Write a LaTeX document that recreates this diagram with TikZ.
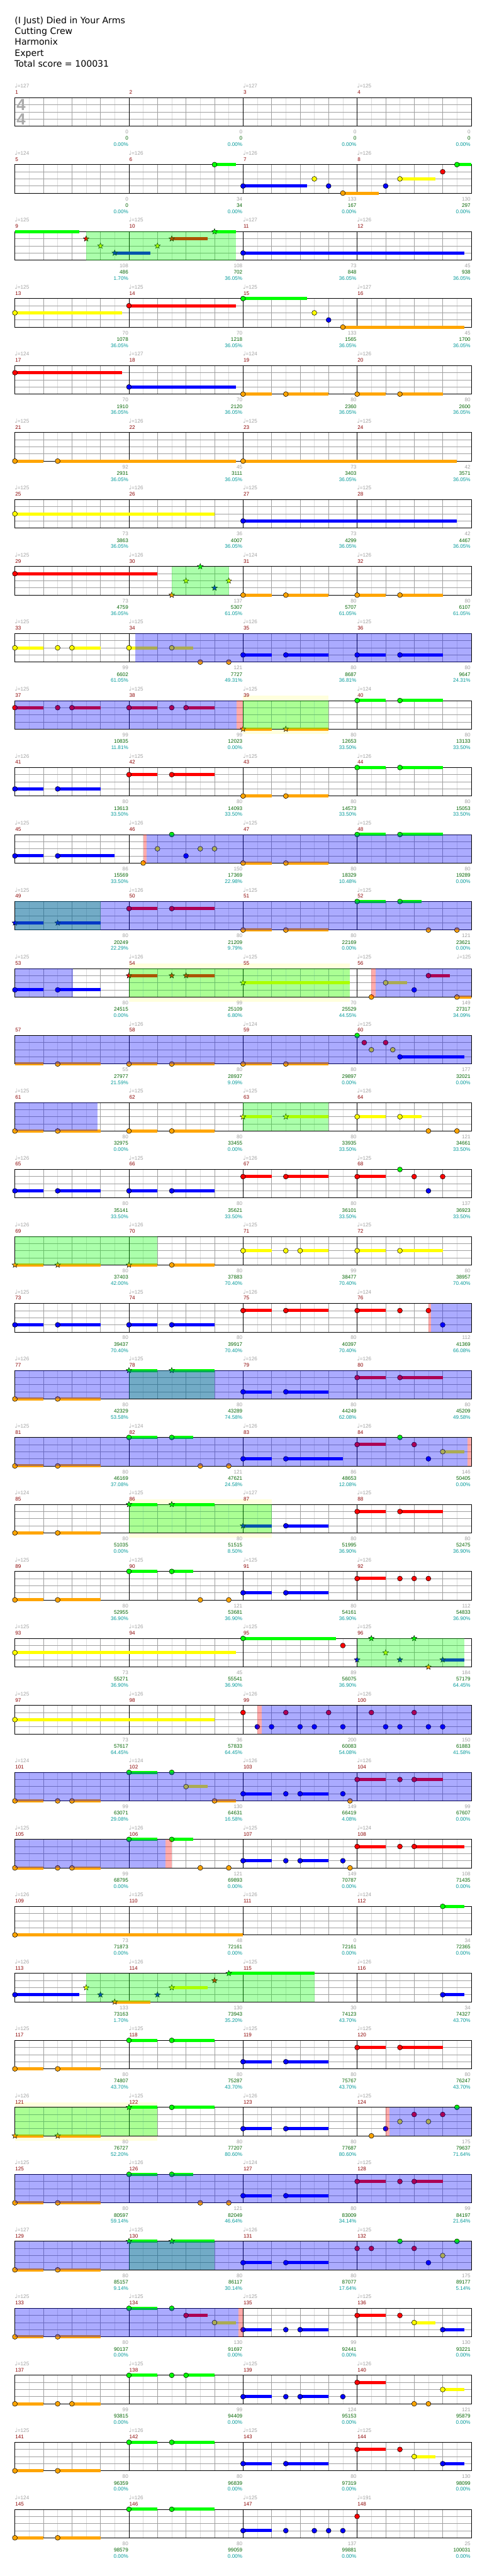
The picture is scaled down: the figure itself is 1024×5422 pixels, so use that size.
\documentclass[tikz,border=0pt]{standalone}
\usepackage{fontspec}
\setmainfont{Liberation Sans}
\newfontfamily\titlefont{DejaVu Sans}
\newfontfamily\notefont{DejaVu Sans}
\usetikzlibrary{shapes.geometric}

\definecolor{lane0}{RGB}{0,255,0}
\definecolor{lane1}{RGB}{255,0,0}
\definecolor{lane2}{RGB}{255,255,0}
\definecolor{lane3}{RGB}{0,0,255}
\definecolor{lane4}{RGB}{255,165,0}
\definecolor{beatgray}{RGB}{160,160,160}
\definecolor{halfgray}{RGB}{220,220,220}
\definecolor{sigray}{RGB}{170,170,170}
\definecolor{barred}{RGB}{139,0,0}
\definecolor{scoregreen}{RGB}{0,100,0}
\definecolor{pctteal}{RGB}{0,153,153}
\definecolor{glow}{RGB}{255,255,221}

\newcount\starno
\newcommand\setrow[1]{\def\rownum{#1}\pgfmathsetmacro\rowtop{205.5+141*(#1-1)}}
\newcommand\hit[2]{%
  \pgfmathsetmacro\nx{31.3+30*(#1)}\pgfmathsetmacro\ny{\rowtop+15*(#2)}%
  \draw[gem, fill=lane#2] (\nx,\ny) circle[radius=5.2pt];}
\newcommand\tail[3]{%
  \pgfmathsetmacro\nx{31.3+30*(#2)}\pgfmathsetmacro\ex{31.3+30*(#3)}\pgfmathsetmacro\ny{\rowtop+15*(#1)}%
  \fill[lane#1] (\nx,\ny-3.3) rectangle (\ex,\ny+3.3);}
\newcommand\hold[3]{\tail{#2}{#1}{#3}\hit{#1}{#2}}
\newcommand\sphit[2]{%
  \pgfmathsetmacro\nx{31.3+30*(#1)}\pgfmathsetmacro\ny{\rowtop+15*(#2)}%
  \global\advance\starno by 1
  \node[spstar, fill=lane#2] (star\the\starno) at (\nx,\ny) {};}
\newcommand\sphold[3]{\tail{#2}{#1}{#3}\sphit{#1}{#2}}
\newcommand\zone[4]{%
  \pgfmathsetmacro\za{31.3+30*(#2)}\pgfmathsetmacro\zb{31.3+30*(#3)}%
  \fill[#1] (\za,\rowtop+#4) rectangle (\zb,\rowtop+60-#4);}
\newcommand\spzone[2]{\zone{lane0, opacity=0.33}{#1}{#2}{0}}
\newcommand\odzone[2]{\zone{lane3, opacity=0.33}{#1}{#2}{0}}
\newcommand\sqzone[2]{\zone{lane1, opacity=0.33}{#1}{#2}{0}}
\newcommand\glowzone[2]{\zone{glow}{#1}{#2}{-10.5}}
\newcommand\chartrow[2]{%
  \foreach \t in {1,3,...,31} \draw[halfgray] ({31.3+30*\t},\rowtop) -- ++(0,60);
  \foreach \t in {2,4,6,10,12,14,18,20,22,26,28,30} \draw[beatgray] ({31.3+30*\t},\rowtop) -- ++(0,60);
  \foreach \l in {1,2,3} \draw[beatgray] (31.3,\rowtop+15*\l) -- (991.3,\rowtop+15*\l);
  \foreach \t in {8,16,24} \draw ({31.3+30*\t},\rowtop) -- ++(0,60);
  \draw (31.3,\rowtop) rectangle (991.3,\rowtop+60);
  \foreach \tp [count=\c from 0] in {#1} {%
    \pgfmathtruncatemacro\mnum{4*(\rownum-1)+\c+1}%
    \ifnum\tp>0 \node[tempo] (t\mnum) at ({30.8+240*\c},\rowtop-20.4) {{\notefont\fontsize{12}{12}\selectfont ♩}=\tp};\fi}
  \foreach \gn/\sc/\pc [count=\c from 0] in {#2} {%
    \pgfmathtruncatemacro\mnum{4*(\rownum-1)+\c+1}%
    \node[barnum] (m\mnum) at ({31.8+240*\c},\rowtop-7.4) {\mnum};
    \node[gain] (g\mnum) at ({270.3+240*\c},\rowtop+76) {\gn};
    \node[total] (s\mnum) at ({270.3+240*\c},\rowtop+89.6) {\sc};
    \node[pct] (p\mnum) at ({270.3+240*\c},\rowtop+102.6) {\pc\%};
  }}

\begin{document}
\begin{tikzpicture}[
    x=1pt, y=-1pt, line width=1pt,
    gem/.style={draw=black, line width=0.7pt},
    spstar/.style={star, star points=5, star point ratio=2.3, minimum size=12.5pt,
                   inner sep=0pt, draw=black, line width=0.6pt},
    title/.style={anchor=base west, inner sep=0pt, font=\titlefont\fontsize{18.7}{22}\selectfont},
    timesig/.style={inner sep=0pt, text=sigray, font=\bfseries\fontsize{34}{34}\selectfont},
    small/.style={inner sep=0pt, font=\fontsize{10.8}{12}\selectfont},
    tempo/.style={small, anchor=base west, text=beatgray},
    barnum/.style={small, anchor=base west, text=barred},
    gain/.style={small, anchor=base east, text=beatgray},
    total/.style={small, anchor=base east, text=scoregreen},
    pct/.style={small, anchor=base east, text=pctteal}
]
\fill[white] (0,0) rectangle (1024,5422);
\useasboundingbox (0,0) rectangle (1024,5422);

\node[title] (song) at (30.5,49) {(I Just) Died in Your Arms};
\node[title] (artist) at (30.5,72) {Cutting Crew};
\node[title] (charter) at (30.5,95) {Harmonix};
\node[title] (level) at (30.5,118) {Expert};
\node[title] (score) at (30,141) {Total score = 100031};

% row 1
\setrow{1}
\chartrow{127,0,127,125}{0/0/0.00, 0/0/0.00, 0/0/0.00, 0/0/0.00}
\node[timesig] (ts1) at (44.5,221) {4};
\node[timesig] (ts2) at (44.5,250.5) {4};

% row 2
\setrow{2}
\chartrow{124,126,126,126}{0/0/0.00, 34/34/0.00, 133/167/0.00, 130/297/0.00}
\hold{14}{0}{15.5} \hold{16}{3}{20.5} \hit{21}{2} \hit{22}{3} \hold{23}{4}{25.5}
\hit{26}{3} \hold{27}{2}{29.5} \hit{30}{1} \hold{31}{0}{32}

% row 3
\setrow{3}
\chartrow{125,125,127,126}{108/486/1.70, 108/702/36.05, 73/848/36.05, 45/938/36.05}
\tail{0}{0}{4.5} \sphit{5}{1} \sphit{6}{2} \sphold{7}{3}{9.5} \sphit{10}{2}
\sphold{11}{1}{13.5} \sphold{14}{0}{15.5} \hold{16}{3}{31.5}
\spzone{5}{15.5}

% row 4
\setrow{4}
\chartrow{125,125,125,127}{70/1078/36.05, 70/1218/36.05, 133/1565/36.05, 45/1700/36.05}
\hold{0}{2}{7.5} \hold{8}{1}{15.5} \hold{16}{0}{20.5} \hit{21}{2} \hit{22}{3} \hold{23}{4}{31.5}

% row 5
\setrow{5}
\chartrow{124,127,124,126}{70/1910/36.05, 70/2120/36.05, 80/2360/36.05, 80/2600/36.05}
\hold{0}{1}{7.5} \hold{8}{3}{15.5} \hold{16}{4}{18} \hold{19}{4}{22} \hold{24}{4}{26} \hold{27}{4}{30}

% row 6
\setrow{6}
\chartrow{125,126,125,125}{92/2931/36.05, 45/3111/36.05, 73/3403/36.05, 42/3571/36.05}
\hold{0}{4}{2} \hold{3}{4}{15.5} \hold{16}{4}{31}

% row 7
\setrow{7}
\chartrow{125,126,125,125}{73/3863/36.05, 36/4007/36.05, 73/4299/36.05, 42/4467/36.05}
\hold{0}{2}{14} \hold{16}{3}{31}

% row 8
\setrow{8}
\chartrow{125,126,124,126}{73/4759/36.05, 137/5307/61.05, 80/5707/61.05, 80/6107/61.05}
\hold{0}{1}{10} \sphit{11}{4} \sphit{12}{2} \sphit{13}{0} \sphit{14}{3} \sphit{15}{2}
\hold{16}{4}{18} \hold{19}{4}{22} \hold{24}{4}{26} \hold{27}{4}{30}
\spzone{11}{15}

% row 9
\setrow{9}
\chartrow{125,125,126,125}{99/6602/61.05, 121/7727/49.31, 80/8687/36.81, 80/9647/24.31}
\hold{0}{2}{2} \hit{3}{2} \hold{4}{2}{6} \hold{8}{2}{10} \hold{11}{2}{12.5} \hit{13}{4} \hit{15}{4}
\hold{16}{3}{18} \hold{19}{3}{22} \hold{24}{3}{26} \hold{27}{3}{30}
\odzone{8.45}{32}

% row 10
\setrow{10}
\glowzone{16}{22}
\chartrow{125,125,125,124}{99/10835/11.81, 99/12023/0.00, 80/12653/33.50, 80/13133/33.50}
\hold{0}{1}{2} \hit{3}{1} \hold{4}{1}{6} \hold{8}{1}{10} \hit{11}{1} \hold{12}{1}{14}
\sphold{16}{4}{18} \sphold{19}{4}{22} \hold{24}{0}{26} \hold{27}{0}{30}
\odzone{0}{15.56} \sqzone{15.56}{16} \spzone{16}{22}

% row 11
\setrow{11}
\chartrow{126,125,125,126}{80/13613/33.50, 80/14093/33.50, 80/14573/33.50, 80/15053/33.50}
\hold{0}{3}{2} \hold{3}{3}{6} \hold{8}{1}{10} \hold{11}{1}{14} \hold{16}{4}{18} \hold{19}{4}{22}
\hold{24}{0}{26} \hold{27}{0}{30}

% row 12
\setrow{12}
\chartrow{125,126,125,125}{86/15569/33.50, 150/17369/22.98, 80/18329/10.48, 80/19289/0.00}
\hold{0}{3}{2} \hold{3}{3}{7} \hit{9}{4} \hit{10}{2} \hit{11}{0} \hit{12}{3} \hit{13}{2} \hit{14}{2}
\hold{16}{4}{18} \hold{19}{4}{22} \hold{24}{0}{26} \hold{27}{0}{30}
\sqzone{9}{9.25} \odzone{9.25}{32}

% row 13
\setrow{13}
\chartrow{125,126,125,125}{80/20249/22.29, 80/21209/9.79, 80/22169/0.00, 121/23621/0.00}
\sphold{0}{3}{2} \sphold{3}{3}{6} \hold{8}{1}{10} \hold{11}{1}{14} \hold{16}{4}{18} \hold{19}{4}{22}
\hold{24}{0}{26} \hold{27}{0}{28.5} \hit{29}{4} \hit{31}{4}
\spzone{0}{6} \odzone{0}{32}

% row 14
\setrow{14}
\glowzone{8}{23.5}
\chartrow{125,126,125,125}{80/24515/0.00, 99/25109/6.80, 70/25529/44.55, 149/27317/34.09}
\node[tempo, anchor=base east] (t57) at (991.3,\rowtop-20.4) {{\notefont\fontsize{12}{12}\selectfont ♩}=125};
\hold{0}{3}{2} \hold{3}{3}{6} \sphold{8}{1}{10} \sphit{11}{1} \sphold{12}{1}{14} \sphold{16}{2}{23.5}
\hit{25}{4} \hold{26}{2}{27.5} \hit{28}{3} \hold{29}{1}{30.5} \hold{31}{4}{32}
\odzone{0}{4.07} \spzone{8}{23.5} \sqzone{25}{25.3} \odzone{25.3}{32}

% row 15
\setrow{15}
\chartrow{0,126,124,125}{55/27977/21.59, 80/28937/9.09, 80/29897/0.00, 177/32021/0.00}
\tail{4}{0}{2} \hold{3}{4}{6} \hold{8}{4}{10} \hold{11}{4}{14} \hold{16}{4}{18} \hold{19}{4}{22}
\hit{24}{0} \hit{24.5}{1} \hit{25}{2} \hit{26}{1} \hit{26.5}{2} \hold{27}{3}{31.5}
\odzone{0}{32}

% row 16
\setrow{16}
\chartrow{125,125,125,126}{80/32975/0.00, 80/33455/0.00, 80/33935/33.50, 121/34661/33.50}
\hold{0}{4}{2} \hold{3}{4}{6} \hold{8}{4}{10} \hold{11}{4}{14} \sphold{16}{2}{18} \sphold{19}{2}{22}
\hold{24}{2}{26} \hold{27}{2}{28.5} \hit{29}{4} \hit{31}{4}
\odzone{0}{5.79} \spzone{16}{22}

% row 17
\setrow{17}
\chartrow{126,125,126,125}{80/35141/33.50, 80/35621/33.50, 80/36101/33.50, 137/36923/33.50}
\hold{0}{3}{2} \hold{3}{3}{6} \hold{8}{3}{10} \hold{11}{3}{14} \hold{16}{1}{18} \hold{19}{1}{22}
\hold{24}{1}{26} \hit{27}{0} \hit{28}{1} \hit{29}{3} \hit{30}{1}

% row 18
\setrow{18}
\chartrow{126,126,125,125}{80/37403/42.00, 80/37883/70.40, 99/38477/70.40, 80/38957/70.40}
\sphold{0}{4}{2} \sphold{3}{4}{6} \sphold{8}{4}{10} \hold{11}{4}{14} \hold{16}{2}{18} \hit{19}{2}
\hold{20}{2}{22} \hold{24}{2}{26} \hold{27}{2}{30}
\spzone{0}{10}

% row 19
\setrow{19}
\chartrow{125,125,126,124}{80/39437/70.40, 80/39917/70.40, 80/40397/70.40, 112/41369/66.08}
\hold{0}{3}{2} \hold{3}{3}{6} \hold{8}{3}{10} \hold{11}{3}{14} \hold{16}{1}{18} \hold{19}{1}{22}
\hold{24}{1}{26} \hit{27}{1} \hit{29}{1} \hit{30}{3}
\sqzone{29}{29.2} \odzone{29.2}{32}

% row 20
\setrow{20}
\chartrow{126,125,126,126}{80/42329/53.58, 80/43289/74.58, 80/44249/62.08, 80/45209/49.58}
\hold{0}{4}{2} \hold{3}{4}{6} \sphold{8}{0}{10} \sphold{11}{0}{14} \hold{16}{3}{18} \hold{19}{3}{22}
\hold{24}{1}{26} \hold{27}{1}{30}
\spzone{8}{14} \odzone{0}{32}

% row 21
\setrow{21}
\chartrow{125,124,126,126}{80/46169/37.08, 121/47621/24.58, 86/48653/12.08, 146/50405/0.00}
\hold{0}{4}{2} \hold{3}{4}{6} \hold{8}{0}{10} \hold{11}{0}{12.5} \hit{13}{4} \hit{15}{4}
\hold{16}{3}{18} \hold{19}{3}{23} \hold{24}{1}{26} \hit{27}{0} \hit{28}{1} \hit{29}{3} \hold{30}{2}{31.5}
\odzone{0}{31.74} \sqzone{31.74}{32}

% row 22
\setrow{22}
\glowzone{8}{18}
\chartrow{124,125,127,125}{80/51035/0.00, 80/51515/8.50, 80/51995/36.90, 80/52475/36.90}
\hold{0}{4}{2} \hold{3}{4}{6} \sphold{8}{0}{10} \sphold{11}{0}{14} \sphold{16}{3}{18} \hold{19}{3}{22}
\hold{24}{1}{26} \hold{27}{1}{30}
\spzone{8}{18}

% row 23
\setrow{23}
\chartrow{125,125,125,126}{80/52955/36.90, 121/53681/36.90, 80/54161/36.90, 112/54833/36.90}
\hold{0}{4}{2} \hold{3}{4}{6} \hold{8}{0}{10} \hold{11}{0}{12.5} \hit{13}{4} \hit{15}{4}
\hold{16}{3}{18} \hold{19}{3}{22} \hold{24}{1}{26} \hit{27}{1} \hit{28}{1} \hit{29}{1}

% row 24
\setrow{24}
\chartrow{125,126,125,125}{73/55271/36.90, 45/55541/36.90, 89/56075/36.90, 184/57179/64.45}
\hold{0}{2}{15.5} \hold{16}{0}{22.5} \hit{23}{1} \sphit{24}{3} \sphit{25}{0} \sphit{26}{2}
\sphit{27}{3} \sphit{28}{0} \sphit{29}{4} \sphold{30}{3}{31.5}
\spzone{24}{31.5}

% row 25
\setrow{25}
\chartrow{125,126,126,126}{73/57617/64.45, 36/57833/64.45, 200/60083/54.08, 150/61883/41.58}
\hold{0}{2}{14} \hit{16}{1} \hit{17}{3} \hit{18}{3} \hit{19}{1} \hit{20}{3} \hit{21}{3} \hit{22}{1}
\hit{23}{3} \hit{25}{1} \hit{26}{3} \hit{27}{3} \hit{28}{1} \hit{29}{3} \hit{30}{3}
\sqzone{17}{17.3} \odzone{17.3}{32}

% row 26
\setrow{26}
\chartrow{124,124,126,126}{99/63071/29.08, 130/64631/16.58, 149/66419/4.08, 99/67607/0.00}
\hold{0}{4}{2} \hit{3}{4} \hold{4}{4}{6} \hold{8}{0}{10} \hit{11}{0} \hold{12}{2}{13.5} \hold{14}{4}{15.5}
\hold{16}{3}{18} \hit{19}{3} \hold{20}{3}{22} \hit{23}{3} \hit{23.5}{4} \hold{24}{1}{26} \hit{27}{1} \hold{28}{1}{30}
\odzone{0}{32}

% row 27
\setrow{27}
\chartrow{125,126,125,124}{99/68795/0.00, 121/69893/0.00, 149/70787/0.00, 108/71435/0.00}
\hold{0}{4}{2} \hit{3}{4} \hold{4}{4}{6} \hold{8}{0}{10} \hold{11}{0}{12.5} \hit{13}{4} \hit{15}{4}
\hold{16}{3}{18} \hit{19}{3} \hold{20}{3}{22} \hit{23}{3} \hit{23.5}{4} \hold{24}{1}{26} \hit{27}{1} \hold{28}{1}{31.5}
\odzone{0}{10.55} \sqzone{10.55}{11}

% row 28
\setrow{28}
\chartrow{126,125,126,124}{73/71873/0.00, 48/72161/0.00, 0/72161/0.00, 34/72365/0.00}
\hold{0}{4}{16} \hold{30}{0}{31.5}

% row 29
\setrow{29}
\chartrow{126,126,125,126}{133/73163/1.70, 130/73943/35.20, 30/74123/43.70, 34/74327/43.70}
\hold{0}{3}{4.5} \sphit{5}{2} \sphit{6}{3} \sphold{7}{4}{9.5} \sphit{10}{3} \sphold{11}{2}{13.5}
\sphit{14}{1} \sphold{15}{0}{21} \hold{30}{3}{31.5}
\spzone{5}{21}

% row 30
\setrow{30}
\chartrow{125,125,125,125}{80/74807/43.70, 80/75287/43.70, 80/75767/43.70, 80/76247/43.70}
\hold{0}{4}{2} \hold{3}{4}{6} \hold{8}{0}{10} \hold{11}{0}{14} \hold{16}{3}{18} \hold{19}{3}{22}
\hold{24}{1}{26} \hold{27}{1}{30}

% row 31
\setrow{31}
\glowzone{0}{10}
\chartrow{126,125,126,125}{80/76727/52.20, 80/77207/80.60, 80/77687/80.60, 175/79637/71.64}
\sphold{0}{4}{2} \sphold{3}{4}{6} \sphold{8}{0}{10} \hold{11}{0}{14} \hold{16}{3}{18} \hold{19}{3}{22}
\hit{25}{4} \hit{26}{3} \hit{27}{2} \hit{28}{1} \hit{29}{2} \hit{30}{1} \hit{31}{0}
\spzone{0}{10} \sqzone{26}{26.25} \odzone{26.25}{32}

% row 32
\setrow{32}
\chartrow{125,126,124,125}{80/80597/59.14, 121/82049/46.64, 80/83009/34.14, 99/84197/21.64}
\hold{0}{4}{2} \hold{3}{4}{6} \hold{8}{0}{10} \hold{11}{0}{12.5} \hit{13}{4} \hit{15}{4}
\hold{16}{3}{18} \hold{19}{3}{22} \hold{24}{1}{26} \hit{27}{1} \hold{28}{1}{30}
\odzone{0}{32}

% row 33
\setrow{33}
\chartrow{127,125,126,125}{80/85157/9.14, 80/86117/30.14, 80/87077/17.64, 175/89177/5.14}
\hold{0}{4}{2} \hold{3}{4}{6} \sphold{8}{0}{10} \sphold{11}{0}{14} \hold{16}{3}{18} \hold{19}{3}{22}
\hit{24}{1} \hit{25}{1} \hit{27}{0} \hit{28}{1} \hit{29}{3} \hit{30}{2} \hit{31}{0}
\spzone{8}{14} \odzone{0}{32}

% row 34
\setrow{34}
\chartrow{125,125,125,125}{80/90137/0.00, 130/91697/0.00, 99/92441/0.00, 130/93221/0.00}
\hold{0}{4}{2} \hold{3}{4}{6} \hold{8}{0}{10} \hit{11}{0} \hold{12}{1}{13.5} \hold{14}{2}{15.5}
\hold{16}{3}{18} \hit{19}{3} \hold{20}{3}{22} \hold{24}{1}{26} \hit{27}{1} \hold{28}{2}{29.5} \hold{30}{3}{31.5}
\odzone{0}{15.7} \sqzone{15.7}{16}

% row 35
\setrow{35}
\chartrow{125,125,125,126}{99/93815/0.00, 99/94409/0.00, 124/95153/0.00, 121/95879/0.00}
\hold{0}{4}{2} \hit{3}{4} \hold{4}{4}{6} \hold{8}{0}{10} \hit{11}{0} \hold{12}{0}{14}
\hold{16}{3}{18} \hit{19}{3} \hold{20}{3}{22} \hit{23}{3} \hold{24}{1}{26} \hit{28}{4} \hit{29}{4} \hold{30}{2}{31.5}

% row 36
\setrow{36}
\chartrow{125,126,125,125}{80/96359/0.00, 80/96839/0.00, 80/97319/0.00, 130/98099/0.00}
\hold{0}{4}{2} \hold{3}{4}{6} \hold{8}{0}{10} \hold{11}{0}{14} \hold{16}{3}{18} \hold{19}{3}{22}
\hold{24}{1}{26} \hit{27}{1} \hold{28}{2}{29.5} \hold{30}{3}{31.5}

% row 37
\setrow{37}
\chartrow{124,126,125,191}{80/98579/0.00, 80/99059/0.00, 137/99881/0.00, 25/100031/0.00}
\hold{0}{4}{2} \hold{3}{4}{6} \hold{8}{0}{10} \hold{11}{0}{14} \hold{16}{3}{18}
\hit{19}{3} \hit{21}{3} \hit{22}{3} \hit{23}{3} \hit{24}{1}
\end{tikzpicture}
\end{document}
